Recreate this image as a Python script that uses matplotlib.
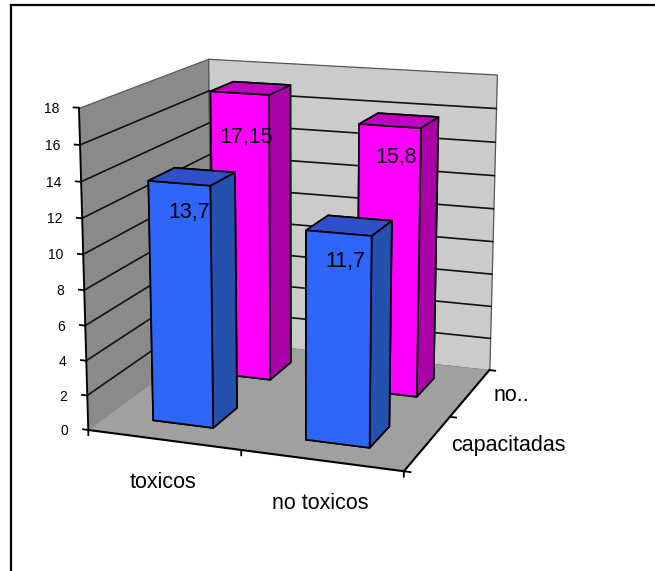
import numpy as np
import matplotlib
matplotlib.use("Agg")
import matplotlib.pyplot as plt
from matplotlib.lines import Line2D
from mpl_toolkits.mplot3d.art3d import Poly3DCollection

plt.rcParams['font.family'] = ['Liberation Sans', 'DejaVu Sans']

# Chart data
categories = ['toxicos', 'no toxicos']
series_names = ['capacitadas', 'no..']
values_capacitadas = [13.7, 11.7]
values_no = [17.15, 15.8]
value_ticks = [0, 2, 4, 6, 8, 10, 12, 14, 16, 18]

# Colours
BLUE = {'front': '#2F66FA', 'top': '#2F50C8', 'side': '#2450AE'}
MAGENTA = {'front': '#FF00FF', 'top': '#C000C0', 'side': '#AA00A8'}
WALL_LEFT = '#8A8A8A'
WALL_BACK = '#CBCBCB'
FLOOR = '#A0A0A0'

W, H = 655, 571
Z_MAX = 18
GAP = 0.3   # free space on each side of a bar, in category units
nx, ny = len(categories), len(series_names)

fig = plt.figure(figsize=(W / 100, H / 100), dpi=100, facecolor='white')

# The page outline only runs along the top and the left
fig.add_artist(Line2D([11 / W, 11 / W], [0, 1 - 5 / H], color='black', lw=1.6,
                      transform=fig.transFigure, solid_capstyle='projecting'))
fig.add_artist(Line2D([11 / W, 1], [1 - 5 / H, 1 - 5 / H], color='black', lw=1.6,
                      transform=fig.transFigure, solid_capstyle='projecting'))

# Camera calibrated from the plot box corners: (x, y, z) -> pixel position
box_corners = [
    ((0, 0, 0), (89, 430)),
    ((nx, 0, 0), (403, 472)),
    ((nx, ny, 0), (490, 369)),
    ((0, ny, 0), (211, 340)),
    ((0, 0, Z_MAX), (79, 107)),
    ((0, ny, Z_MAX), (208, 59)),
    ((nx, ny, Z_MAX), (497, 75)),
]


def fit_camera(pairs):
    rows = []
    for (x, y, z), (u, v) in pairs:
        rows.append([x, y, z, 1, 0, 0, 0, 0, -u * x, -u * y, -u * z, -u])
        rows.append([0, 0, 0, 0, x, y, z, 1, -v * x, -v * y, -v * z, -v])
    p = np.linalg.svd(np.array(rows, dtype=float))[2][-1].reshape(3, 4)
    return p / p[2, 3]


P = fit_camera(box_corners)


def to_pixel(x, y, z):
    u, v, w = P @ np.array([x, y, z, 1.0])
    return u / w, v / w


def pixel_text(px, py, s, **kw):
    fig.text(px / W, 1 - py / H, s, zorder=9, **kw)


ax = fig.add_axes([0, 0, 1, 1], projection='3d', computed_zorder=False,
                  proj_type='ortho')
ax.set_axis_off()
ax.patch.set_alpha(0)
ax.apply_aspect = lambda position=None: None
ax.set_xlim(0, nx)
ax.set_ylim(0, ny)
ax.set_zlim(0, Z_MAX)


def camera_matrix():
    # Pixel positions are rescaled onto the axes' 2D view limits
    x0, x1 = ax.viewLim.intervalx
    y0, y1 = ax.viewLim.intervaly
    sx, sy = (x1 - x0) / W, (y1 - y0) / H
    row_x = P[0] * sx + P[2] * x0
    row_y = -P[1] * sy + P[2] * y1
    row_z = P[2] - np.array([0, 0, 0, 0.5])
    return np.array([row_x, row_y, row_z, P[2]])


ax.get_proj = camera_matrix

# Walls and floor
ax.add_collection3d(Poly3DCollection(
    [[(0, 0, 0), (0, ny, 0), (0, ny, Z_MAX), (0, 0, Z_MAX)]],
    facecolors=WALL_LEFT, edgecolors='#5A5A5A', linewidths=0.9, zorder=1))
ax.add_collection3d(Poly3DCollection(
    [[(0, ny, 0), (nx, ny, 0), (nx, ny, Z_MAX), (0, ny, Z_MAX)]],
    facecolors=WALL_BACK, edgecolors='#555555', linewidths=0.9, zorder=1))
ax.add_collection3d(Poly3DCollection(
    [[(0, 0, 0), (nx, 0, 0), (nx, ny, 0), (0, ny, 0)]],
    facecolors=FLOOR, edgecolors='none', zorder=1))

# Gridlines across both walls; the top of the walls carries none
for z in value_ticks[1:-1]:
    ax.plot([0, 0, nx], [0, ny, ny], [z, z, z], color='#111111', lw=1.2,
            zorder=2, solid_joinstyle='miter')

# Axis lines and ticks
ax.plot([0, 0], [0, 0], [0, Z_MAX], color='black', lw=1.3, zorder=3)
ax.plot([0, nx, nx], [0, 0, ny], [0, 0, 0], color='black', lw=1.5, zorder=3)
for z in value_ticks:
    ax.plot([-0.035, 0], [0, 0], [z, z], color='black', lw=1.3, zorder=3)
    px, py = to_pixel(0, 0, z)
    pixel_text(px - 20, py + 1, str(z), fontsize=10, ha='right', va='center')
for i in range(nx + 1):
    ax.plot([i, i], [0, 0], [0, -0.3], color='black', lw=1.3, zorder=3)
for j in range(ny + 1):
    ax.plot([nx, nx + 0.04], [j, j], [0, 0], color='black', lw=1.3, zorder=3)

# Distance of each value label below its column top, in value units
label_drop = {0: [1.6, 1.5], 1: [2.58, 1.8]}
label_shift = {0: [0.02, 0.0], 1: [0.0, 0.0]}


# Columns: far row first so the near row covers it
def draw_row(values, j, colours, zorder):
    for i, value in enumerate(values):
        faces = [colours['side'], colours['top'], colours['front'],
                 colours['side'], colours['side'], colours['side']]
        ax.bar3d(i + GAP, j + GAP, 0, 1 - 2 * GAP, 1 - 2 * GAP, value,
                 color=faces, shade=False, edgecolor='black', linewidth=1.25,
                 zorder=zorder)
        px, py = to_pixel(i + 0.54 + label_shift[j][i], j + GAP,
                          value - label_drop[j][i])
        pixel_text(px, py, str(value).replace('.', ','), fontsize=15.5,
                   ha='center', va='center')


draw_row(values_no, 1, MAGENTA, 5)
draw_row(values_capacitadas, 0, BLUE, 6)

# Category and series labels
label_fs = 15.5
for i, name in enumerate(categories):
    px, py = to_pixel(i + 0.5, 0, 0)
    pixel_text(px - 1, py + 43, name, fontsize=label_fs, ha='center', va='center')
for j, name in enumerate(series_names):
    px, py = to_pixel(nx, j + 0.5, 0)
    pixel_text(px + 23.5, py + 2.5, name, fontsize=label_fs, ha='left', va='center')

fig.savefig('out.png', dpi=100)
